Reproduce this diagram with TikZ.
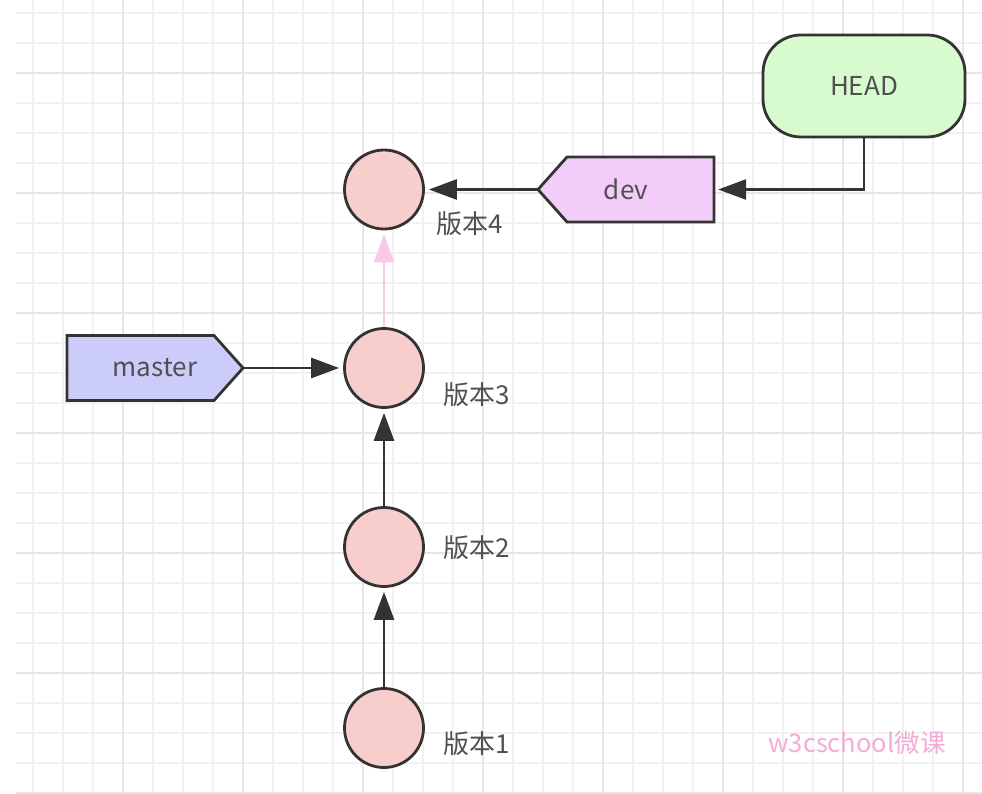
\documentclass[tikz,border=0pt]{standalone}
\usepackage{fontspec}
\setmainfont{Noto Sans CJK SC}
\usetikzlibrary{arrows.meta}
\definecolor{gridminor}{RGB}{242,242,242}
\definecolor{gridmajor}{RGB}{230,230,230}
\definecolor{edgecol}{RGB}{51,51,51}
\definecolor{txtcol}{RGB}{80,80,80}
\definecolor{commitfill}{RGB}{248,206,204}
\definecolor{headfill}{RGB}{215,250,207}
\definecolor{devfill}{RGB}{243,205,250}
\definecolor{masterfill}{RGB}{204,204,250}
\definecolor{pinkline}{RGB}{248,200,228}
\definecolor{wmcol}{RGB}{244,172,214}
\tikzset{
  commit/.style={circle, draw=edgecol, line width=2.8pt, fill=commitfill, minimum size=79pt, inner sep=0pt},
  version/.style={anchor=west, text=txtcol, font=\fontsize{26}{30}\selectfont},
  tagtext/.style={rectangle, minimum width=176pt, minimum height=65pt, inner sep=0pt, text=txtcol, font=\fontsize{26}{30}\selectfont},
  tagline/.style={draw=edgecol, line width=2.8pt, line join=miter},
  link/.style={draw=edgecol, line width=2.8pt, shorten >=4pt, -{Triangle[length=28pt,width=20pt]}},
}
\begin{document}
\begin{tikzpicture}[x=1pt,y=-1pt]
	\useasboundingbox (0,0) rectangle (982,794);
	\fill[white] (0,0) rectangle (982,794);
	% grid
	\foreach \x in {33,63,...,963} \draw[gridminor, line width=2pt] (\x,0) -- (\x,794);
	\foreach \y in {13,43,...,793} \draw[gridminor, line width=2pt] (16,\y) -- (982,\y);
	\foreach \x in {123,243,...,963} \draw[gridmajor, line width=2pt] (\x,0) -- (\x,794);
	\foreach \y in {73,193,...,793} \draw[gridmajor, line width=2pt] (16,\y) -- (982,\y);
	%commits
	\node[commit] (v1) at (384,728) {};
	\node[commit] (v2) at (384,547) {};
	\node[commit] (v3) at (384,368) {};
	\node[commit] (v4) at (384,189.5) {};
	\node[version] (l1) at (440,744) {版本1};
	\node[version] (l2) at (440,548) {版本2};
	\node[version] (l3) at (440,395) {版本3};
	\node[version] (l4) at (433,224) {版本4};
	\draw[link] (v1) -- (v2);
	\draw[link] (v2) -- (v3);
	\draw[link, draw=pinkline, line width=2.4pt, -{Triangle[length=28pt,width=20pt,fill=pinkline]}] (v3) -- (v4);
	%branches
	\draw[tagline, fill=masterfill] (67,335.5) -- (214,335.5) -- (243,368) -- (214,400.5) -- (67,400.5) -- cycle;
	\node[tagtext] (master) at (155,368) {master};
	\draw[tagline, fill=devfill] (538,189.5) -- (567,157) -- (714,157) -- (714,222) -- (567,222) -- cycle;
	\node[tagtext] (dev) at (626,189.5) {dev};
	\node[draw=edgecol, line width=2.8pt, fill=headfill, rounded corners=38pt, minimum width=202pt, minimum height=102pt, text=txtcol, font=\fontsize{26}{30}\selectfont] (head) at (864,86) {HEAD};
	\draw[link] (master) -- (v3);
	\draw[link] (dev) -- (v4);
	\draw[link] (head.south) |- (dev);
	\node[text=wmcol, font=\fontsize{25.5}{30}\selectfont] (wmark) at (857,743) {w3cschool微课};
\end{tikzpicture}
\end{document}
